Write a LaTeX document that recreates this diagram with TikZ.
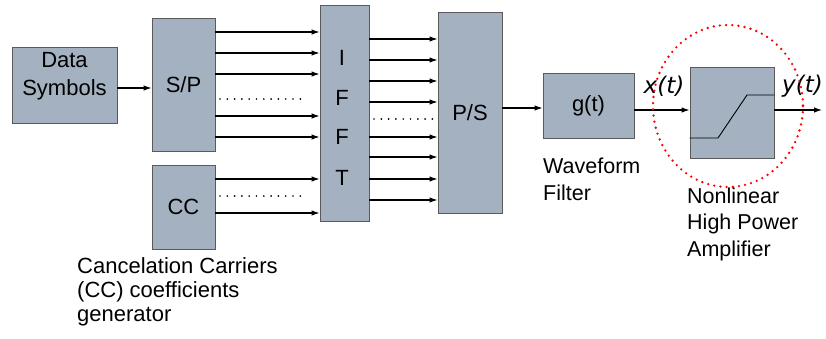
\documentclass[tikz,border=0pt]{standalone}
\usepackage{fontspec}
\setmainfont{Liberation Sans}
\newfontfamily\sigfont{DejaVu Sans}
\usetikzlibrary{arrows.meta}
\definecolor{boxfill}{RGB}{163,177,192}
\definecolor{boxline}{RGB}{90,90,90}
\begin{document}
\begin{tikzpicture}[x=1pt,y=-1pt,
  blk/.style={draw=boxline,fill=boxfill,line width=0.9pt,inner sep=0pt,font=\fontsize{22}{25}\selectfont},
  arr/.style={-{Latex[length=8pt,width=5.5pt]},line width=1.1pt},
  dotrow/.style={line width=1.9pt,line cap=round,dash pattern=on 0pt off 7.3pt},
  lbl/.style={font=\fontsize{21}{26}\selectfont,align=left,inner sep=0pt,anchor=west},
  sig/.style={font=\fontsize{23}{26}\sigfont\itshape,inner sep=0pt}]
\useasboundingbox (0,0) rectangle (826,338);
\node[blk,minimum width=105pt,minimum height=76pt] (ds) at (64.5,85) {};
\node[font=\fontsize{22}{28}\selectfont,align=center,inner sep=0pt] (dst) at (64.5,76) {Data\\Symbols};
\node[blk,minimum width=63pt,minimum height=133pt] (sp) at (183.5,84.5) {S/P};
\node[blk,minimum width=63pt,minimum height=84pt] (cc) at (183.5,207) {CC};
\node[blk,minimum width=49pt,minimum height=216pt] (ifft) at (344.5,113) {};
\node[blk,minimum width=64pt,minimum height=201pt] (ps) at (470,112.5) {P/S};
\node[blk,minimum width=91pt,minimum height=65pt] (g) at (588.5,105.5) {g(t)};
\node[blk,minimum width=84pt,minimum height=91pt] (amp) at (732,112.5) {};
\foreach \t/\yy in {I/58,F/98,F/137,T/178}
  \node[font=\fontsize{22}{25}\selectfont,inner sep=0pt] at (342,\yy) {\t};
% amplifier characteristic
\draw[line width=0.9pt] (amp.west |- 0,138) -- (718,138) -- (747,95) -- (amp.east |- 0,95);
% arrows
\draw[arr] (ds.east |- 0,88) -- (sp.west |- 0,88);
\foreach \yy in {32,53,74,116,137}
  \draw[arr] (sp.east |- 0,\yy) -- (ifft.west |- 0,\yy);
\foreach \yy in {179,213}
  \draw[arr] (cc.east |- 0,\yy) -- (ifft.west |- 0,\yy);
\foreach \yy in {39,60,81,102,137,157,179,200}
  \draw[arr] (ifft.east |- 0,\yy) -- (ps.west |- 0,\yy);
\draw[arr] (ps.east |- 0,108) -- (g.west |- 0,108);
\draw[arr] (g.east |- 0,110) -- (amp.west |- 0,110);
\coordinate (out) at (822,110);
\draw[arr] (amp.east |- 0,110) -- (out);
% dots
\draw[dotrow] (220,99) -- (306,99);
\draw[dotrow] (220,196) -- (302,196);
\draw[dotrow] (374,119) -- (434,119);
% signal labels
\node[sig] (xt) at (664,86) {x(t)};
\node[sig] (yt) at (802.5,86) {y(t)};
% dotted circle
\draw[red,line width=2.6pt,line cap=round,dash pattern=on 0pt off 6.2pt] (728,106) ellipse [x radius=75, y radius=81];
% text labels
\node[lbl,font=\fontsize{21.5}{27}\selectfont] (wf) at (543,179) {Waveform\\Filter};
\node[lbl,font=\fontsize{21.5}{26.5}\selectfont] (nl) at (687,224) {Nonlinear\\High Power\\Amplifier};
\node[lbl,font=\fontsize{22}{24}\selectfont] (ccl) at (77,292) {Cancelation Carriers\\(CC) coefficients\\generator};
\end{tikzpicture}
\end{document}
